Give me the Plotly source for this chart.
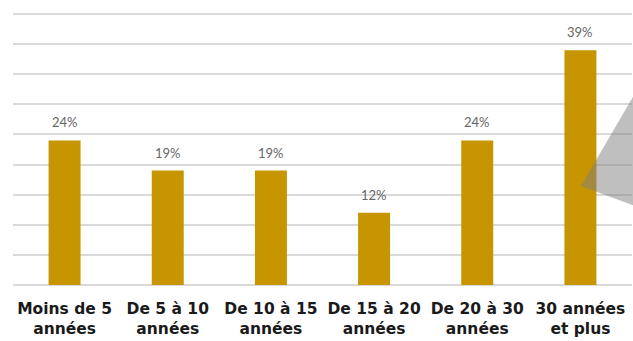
import plotly.graph_objects as go

categories = ["Moins de 5<br>années", "De 5 à 10<br>années", "De 10 à 15<br>années",
              "De 15 à 20<br>années", "De 20 à 30<br>années", "30 années<br>et plus"]
values = [24, 19, 19, 12, 24, 39]
value_labels = ["24%", "19%", "19%", "12%", "24%", "39%"]
gridlines = [0, 5, 10, 15, 20, 25, 30, 35, 40, 45]

bar_color = "#C79500"

fig = go.Figure()
fig.add_trace(go.Bar(x=categories, y=values, marker=dict(color=bar_color, line=dict(width=0)),
                     hoverinfo="skip"))

for c, v, t in zip(categories, values, value_labels):
    fig.add_annotation(x=c, y=v, text=t, showarrow=False, yanchor="bottom", yshift=8,
                       font=dict(family="Lato", size=13, color="#666666"))

# decorative grey triangle at the right edge (plot height now 277px, bottom at 285)
fig.add_shape(type="path", xref="paper", yref="paper",
              path="M 0.9176 0.357 L 1.05 0.866 L 1.05 0.248 Z",
              fillcolor="rgba(128,128,128,0.5)", line=dict(width=0), layer="above")

fig.update_layout(
    width=633, height=341,
    margin=dict(l=13, r=1, t=8, b=56),
    paper_bgcolor="white", plot_bgcolor="white",
    bargap=0.69,
    showlegend=False,
    xaxis=dict(showgrid=False, zeroline=False, showline=False,
               ticks="outside", ticklen=9, tickcolor="rgba(0,0,0,0)",
               fixedrange=True),
    yaxis=dict(range=[0, 46], tickvals=gridlines, showticklabels=False,
               showgrid=True, gridcolor="#D9D9D9", gridwidth=1.5,
               zeroline=True, zerolinecolor="#D9D9D9", zerolinewidth=1.5,
               fixedrange=True),
)
fig.update_xaxes(tickfont=dict(family="DejaVu Sans", size=15.5, color="#1a1a1a", weight="bold"))

fig.write_html("out.html")
